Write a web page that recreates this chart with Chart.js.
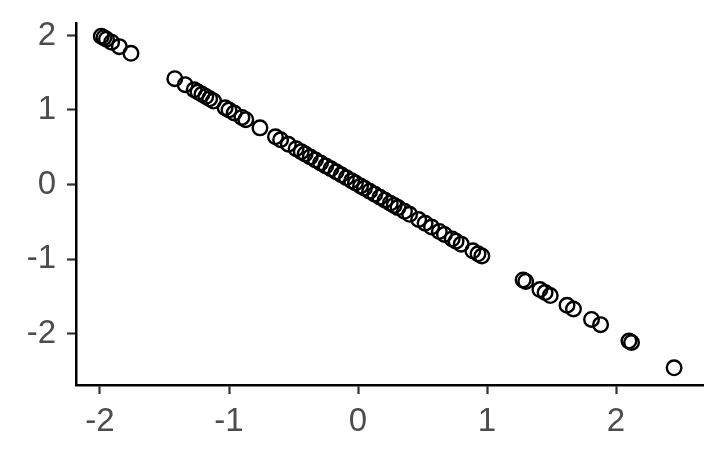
<!DOCTYPE html>
<html>
<head>
<meta charset="utf-8">
<script src="https://cdn.jsdelivr.net/npm/chart.js@4/dist/chart.umd.min.js"></script>
<style>
  html, body { margin: 0; padding: 0; background: #fff; }
  #wrap { width: 725px; height: 465px; }
</style>
</head>
<body>
<div id="wrap"><canvas id="mycanvas" width="725" height="465"></canvas></div>
<script>
// values
var xVals = [-1.99, -1.97, -1.95, -1.91, -1.85, -1.76, -1.42, -1.34, -1.27, -1.24,
  -1.21, -1.18, -1.15, -1.12, -1.03, -1.00, -0.96, -0.90, -0.87, -0.76,
  -0.64, -0.60, -0.54, -0.48, -0.44, -0.41, -0.37, -0.33, -0.29, -0.25,
  -0.21, -0.17, -0.13, -0.09, -0.05, -0.02, 0.02, 0.05, 0.09, 0.13,
  0.17, 0.21, 0.25, 0.28, 0.31, 0.36, 0.40, 0.47, 0.52, 0.57,
  0.63, 0.67, 0.73, 0.76, 0.80, 0.89, 0.93, 0.96, 1.28, 1.30,
  1.41, 1.45, 1.49, 1.62, 1.67, 1.81, 1.88, 2.10, 2.12, 2.45];
var yVals = [1.99, 1.97, 1.95, 1.91, 1.85, 1.76, 1.42, 1.34, 1.27, 1.24,
  1.21, 1.18, 1.15, 1.12, 1.03, 1.00, 0.96, 0.90, 0.87, 0.76,
  0.64, 0.60, 0.54, 0.48, 0.44, 0.41, 0.37, 0.33, 0.29, 0.25,
  0.21, 0.17, 0.13, 0.09, 0.05, 0.02, -0.02, -0.05, -0.09, -0.13,
  -0.17, -0.21, -0.25, -0.28, -0.31, -0.36, -0.40, -0.47, -0.52, -0.57,
  -0.63, -0.67, -0.73, -0.76, -0.80, -0.89, -0.93, -0.96, -1.28, -1.30,
  -1.41, -1.45, -1.49, -1.62, -1.67, -1.81, -1.88, -2.10, -2.12, -2.46];
var xTicks = [-2, -1, 0, 1, 2];
var yTicks = [-2, -1, 0, 1, 2];

var points = [];
for (var i in xVals) {
  points.push({x: xVals[i], y: yVals[i]});
}

var tickFont = {family: "'Liberation Sans', Arial, sans-serif", size: 33};

var ctx = document.getElementById("mycanvas");
var chart = new Chart(ctx, {
  type: 'scatter',
  data: {
    datasets: [{
      data: points,
      pointRadius: 7.3,
      pointBorderWidth: 2.4,
      pointBorderColor: '#000',
      pointBackgroundColor: 'rgba(0,0,0,0)'
    }]
  },
  options: {
    responsive: false,
    animation: false,
    plugins: { legend: {display: false}, tooltip: {enabled: false} },
    layout: { padding: {left: 0, right: 22, top: 23, bottom: 0} },
    scales: {
      x: {
        type: 'linear',
        min: -2.186,
        max: 2.674,
        afterBuildTicks: function(scale) {
          scale.ticks = xTicks.map(function(v) { return {value: v}; });
        },
        afterFit: function(scale) {
          scale.height = 80;
          scale.paddingLeft = 0;
          scale.paddingRight = 0;
        },
        border: {display: true, color: '#000', width: 2.5},
        grid: {drawOnChartArea: false, drawTicks: true, tickLength: 9, tickWidth: 2.2, tickColor: '#333'},
        ticks: {color: '#4d4d4d', font: tickFont, padding: 8, maxRotation: 0}
      },
      y: {
        type: 'linear',
        min: -2.69,
        max: 2.167,
        afterBuildTicks: function(scale) {
          scale.ticks = yTicks.map(function(v) { return {value: v}; });
        },
        afterFit: function(scale) {
          scale.width = 76;
          scale.paddingTop = 0;
          scale.paddingBottom = 0;
        },
        border: {display: true, color: '#000', width: 2.5},
        grid: {drawOnChartArea: false, drawTicks: true, tickLength: 9, tickWidth: 2.2, tickColor: '#333'},
        ticks: {color: '#4d4d4d', font: tickFont, padding: 11}
      }
    }
  }
});
</script>
</body>
</html>
